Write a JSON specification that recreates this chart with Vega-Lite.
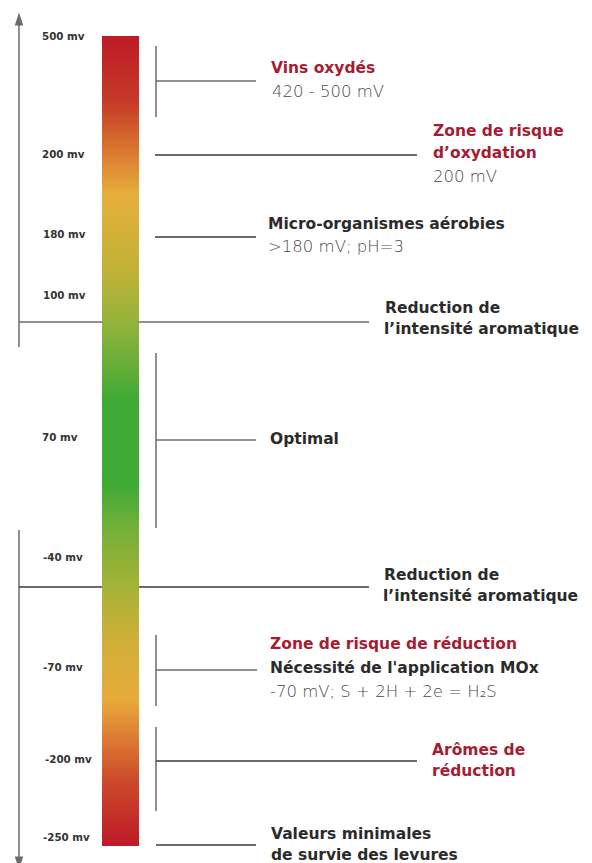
{
  "$schema": "https://vega.github.io/schema/vega-lite/v6.json",
  "width": 592,
  "height": 863,
  "autosize": "none",
  "padding": 0,
  "background": "#ffffff",
  "config": {"view": {"stroke": null}},
  "datasets": {
    "bar": [{"x": 102, "x2": 139, "y": 36, "y2": 846}],
    "segments": [
      {"x": 19, "x2": 19, "y": 22, "y2": 347, "tone": "light"},
      {"x": 19, "x2": 19, "y": 530, "y2": 858, "tone": "light"},
      {"x": 156, "x2": 156, "y": 46, "y2": 117, "tone": "light"},
      {"x": 156, "x2": 256, "y": 81, "y2": 81, "tone": "light"},
      {"x": 155, "x2": 417, "y": 155, "y2": 155, "tone": "dark"},
      {"x": 155, "x2": 256, "y": 237, "y2": 237, "tone": "dark"},
      {"x": 19, "x2": 369, "y": 322, "y2": 322, "tone": "light"},
      {"x": 156, "x2": 156, "y": 353, "y2": 528, "tone": "light"},
      {"x": 156, "x2": 256, "y": 440, "y2": 440, "tone": "light"},
      {"x": 19, "x2": 369, "y": 587, "y2": 587, "tone": "dark"},
      {"x": 156, "x2": 156, "y": 635, "y2": 706, "tone": "light"},
      {"x": 156, "x2": 257, "y": 670, "y2": 670, "tone": "light"},
      {"x": 156, "x2": 156, "y": 727, "y2": 811, "tone": "light"},
      {"x": 156, "x2": 417, "y": 761, "y2": 761, "tone": "dark"},
      {"x": 156, "x2": 256, "y": 845, "y2": 845, "tone": "dark"}
    ],
    "arrows": [
      {"x": 19, "y": 19, "dir": "up"},
      {"x": 19, "y": 863, "dir": "down"}
    ],
    "labels": [
      {"x": 42, "y": 37, "text": "500 mv"},
      {"x": 42, "y": 155, "text": "200 mv"},
      {"x": 43, "y": 235, "text": "180 mv"},
      {"x": 43, "y": 296, "text": "100 mv"},
      {"x": 42, "y": 438, "text": "70 mv"},
      {"x": 43, "y": 558, "text": "-40 mv"},
      {"x": 43, "y": 668, "text": "-70 mv"},
      {"x": 45, "y": 760, "text": "-200 mv"},
      {"x": 43, "y": 838, "text": "-250 mv"}
    ],
    "notes": [
      {"x": 271, "y": 68, "text": "Vins oxydés", "role": "red"},
      {"x": 272, "y": 92, "text": "420 - 500 mV", "role": "gray"},
      {"x": 433, "y": 131, "text": "Zone de risque", "role": "red"},
      {"x": 433, "y": 153, "text": "d’oxydation", "role": "red"},
      {"x": 433, "y": 177, "text": "200 mV", "role": "gray"},
      {"x": 268, "y": 224, "text": "Micro-organismes aérobies", "role": "dark"},
      {"x": 268, "y": 247, "text": ">180 mV; pH=3", "role": "gray"},
      {"x": 385, "y": 308, "text": "Reduction de", "role": "dark"},
      {"x": 384, "y": 329, "text": "l’intensité aromatique", "role": "dark"},
      {"x": 270, "y": 439, "text": "Optimal", "role": "dark"},
      {"x": 384, "y": 575, "text": "Reduction de", "role": "dark"},
      {"x": 383, "y": 596, "text": "l’intensité aromatique", "role": "dark"},
      {"x": 270, "y": 644, "text": "Zone de risque de réduction", "role": "red"},
      {"x": 270, "y": 668, "text": "Nécessité de l'application MOx", "role": "dark"},
      {"x": 270, "y": 692, "text": "-70 mV; S + 2H + 2e = H₂S", "role": "gray"},
      {"x": 432, "y": 750, "text": "Arômes de", "role": "red"},
      {"x": 432, "y": 771, "text": "réduction", "role": "red"},
      {"x": 271, "y": 834, "text": "Valeurs minimales", "role": "dark"},
      {"x": 271, "y": 855, "text": "de survie des levures", "role": "dark"}
    ]
  },
  "layer": [
    {
      "data": {"name": "segments"},
      "mark": {"type": "rule", "strokeWidth": 1.5},
      "encoding": {
        "x": {"field": "x", "type": "quantitative", "scale": {"domain": [0, 592], "nice": false, "zero": false}, "axis": null},
        "x2": {"field": "x2"},
        "y": {"field": "y", "type": "quantitative", "scale": {"domain": [0, 863], "nice": false, "zero": false, "reverse": true}, "axis": null},
        "y2": {"field": "y2"},
        "color": {"field": "tone", "type": "nominal", "scale": {"domain": ["light", "dark"], "range": ["#6b6b6b", "#3a3a3a"]}, "legend": null}
      }
    },
    {
      "data": {"name": "bar"},
      "mark": {
        "type": "rect",
        "fill": {
          "gradient": "linear", "x1": 0, "y1": 0, "x2": 0, "y2": 1,
          "stops": [
            {"offset": 0, "color": "#be1a27"},
            {"offset": 0.08, "color": "#c63a29"},
            {"offset": 0.14, "color": "#d9752f"},
            {"offset": 0.196, "color": "#e7af3b"},
            {"offset": 0.29, "color": "#c0b236"},
            {"offset": 0.35, "color": "#97b33a"},
            {"offset": 0.42, "color": "#5aad38"},
            {"offset": 0.45, "color": "#3faa35"},
            {"offset": 0.555, "color": "#3faa35"},
            {"offset": 0.61, "color": "#76b039"},
            {"offset": 0.685, "color": "#a8b335"},
            {"offset": 0.745, "color": "#cfb039"},
            {"offset": 0.82, "color": "#e8aa3b"},
            {"offset": 0.87, "color": "#dd7832"},
            {"offset": 0.92, "color": "#cc4a2b"},
            {"offset": 1, "color": "#be1a27"}
          ]
        }
      },
      "encoding": {
        "x": {"field": "x", "type": "quantitative"},
        "x2": {"field": "x2"},
        "y": {"field": "y", "type": "quantitative"},
        "y2": {"field": "y2"}
      }
    },
    {
      "data": {"name": "arrows"},
      "transform": [{"filter": "datum.dir === 'up'"}],
      "mark": {"type": "point", "filled": true, "opacity": 1, "color": "#6b6b6b", "size": 169, "shape": "M0,-1L0.65,1L-0.65,1Z"},
      "encoding": {
        "x": {"field": "x", "type": "quantitative"},
        "y": {"field": "y", "type": "quantitative"}
      }
    },
    {
      "data": {"name": "arrows"},
      "transform": [{"filter": "datum.dir === 'down'"}],
      "mark": {"type": "point", "filled": true, "opacity": 1, "color": "#6b6b6b", "size": 169, "shape": "M0,1L0.65,-1L-0.65,-1Z"},
      "encoding": {
        "x": {"field": "x", "type": "quantitative"},
        "y": {"field": "y", "type": "quantitative"}
      }
    },
    {
      "data": {"name": "labels"},
      "mark": {"type": "text", "align": "left", "baseline": "middle", "font": "DejaVu Sans", "fontWeight": "bold", "fontSize": 10.3, "color": "#333333"},
      "encoding": {
        "x": {"field": "x", "type": "quantitative"},
        "y": {"field": "y", "type": "quantitative"},
        "text": {"field": "text"}
      }
    },
    {
      "data": {"name": "notes"},
      "transform": [{"filter": "datum.role === 'red'"}],
      "mark": {"type": "text", "align": "left", "baseline": "middle", "font": "DejaVu Sans", "fontWeight": "bold", "fontSize": 15.5, "color": "#a61c33"},
      "encoding": {
        "x": {"field": "x", "type": "quantitative"},
        "y": {"field": "y", "type": "quantitative"},
        "text": {"field": "text"}
      }
    },
    {
      "data": {"name": "notes"},
      "transform": [{"filter": "datum.role === 'dark'"}],
      "mark": {"type": "text", "align": "left", "baseline": "middle", "font": "DejaVu Sans", "fontWeight": "bold", "fontSize": 15.5, "color": "#2b2b2b"},
      "encoding": {
        "x": {"field": "x", "type": "quantitative"},
        "y": {"field": "y", "type": "quantitative"},
        "text": {"field": "text"}
      }
    },
    {
      "data": {"name": "notes"},
      "transform": [{"filter": "datum.role === 'gray'"}],
      "mark": {"type": "text", "align": "left", "baseline": "middle", "font": "DejaVu Sans", "fontWeight": 300, "fontSize": 16.5, "color": "#4a4a4a"},
      "encoding": {
        "x": {"field": "x", "type": "quantitative"},
        "y": {"field": "y", "type": "quantitative"},
        "text": {"field": "text"}
      }
    }
  ]
}
